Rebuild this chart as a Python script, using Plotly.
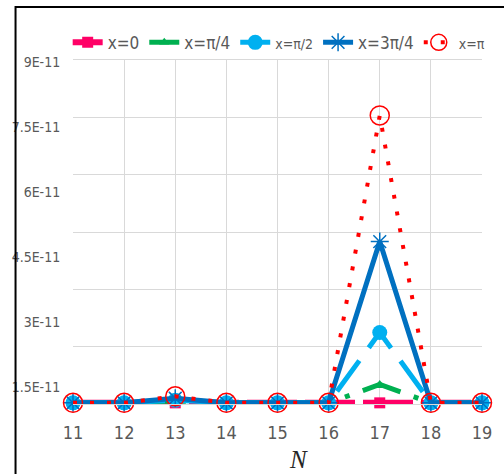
import plotly.graph_objects as go

N = [11, 12, 13, 14, 15, 16, 17, 18, 19]
series_names = ["x=0", "x=π/4", "<span style='font-size:14px'>x=π/2</span>", "x=3π/4",
                "<span style='font-size:14px'>x=π</span>"]
y_x0 = [0.3e-12, 0.3e-12, 0.3e-12, 0.3e-12, 0.3e-12, 0.3e-12, 0.3e-12, 0.3e-12, 0.3e-12]
y_pi4 = [0.3e-12, 0.3e-12, 0.8e-12, 0.3e-12, 0.3e-12, 0.3e-12, 5.1e-12, 0.3e-12, 0.3e-12]
y_pi2 = [0.3e-12, 0.3e-12, 1.0e-12, 0.3e-12, 0.3e-12, 0.3e-12, 18.7e-12, 0.3e-12, 0.3e-12]
y_3pi4 = [0.3e-12, 0.3e-12, 1.5e-12, 0.3e-12, 0.3e-12, 0.3e-12, 42.5e-12, 0.3e-12, 0.3e-12]
y_pi = [0.3e-12, 0.3e-12, 2.0e-12, 0.3e-12, 0.3e-12, 0.3e-12, 75.5e-12, 0.3e-12, 0.3e-12]
y_tickvals = [1.5e-11, 3e-11, 4.5e-11, 6e-11, 7.5e-11, 9e-11]
y_ticktext = ["1.5E-11", "3E-11", "4.5E-11", "6E-11", "7.5E-11", "9E-11"]

FONT = "DejaVu Sans Condensed, Liberation Sans Narrow, Arial Narrow, sans-serif"
GRAY = "#595959"

fig = go.Figure()
styles = [
    dict(y=y_x0, color="#FF0066", width=6, dash="50px,8px",
         marker=dict(symbol="square", size=11, color="#FF0066")),
    dict(y=y_pi4, color="#00B050", width=5, dash="40px,14px,5px,14px",
         marker=dict(symbol="triangle-up", size=9, color="#00B050")),
    dict(y=y_pi2, color="#00B0F0", width=5, dash="38px,16px",
         marker=dict(symbol="circle", size=15, color="#00B0F0")),
    dict(y=y_3pi4, color="#0070C0", width=5, dash="solid",
         marker=dict(symbol="asterisk-open", size=15, color="#0070C0",
                     line=dict(color="#0070C0", width=1.5))),
    dict(y=y_pi, color="#FF0000", width=4, dash="4px,13px",
         marker=dict(symbol="circle-open", size=19, color="#FF0000",
                     line=dict(color="#FF0000", width=1.5))),
]
for name, s in zip(series_names, styles):
    fig.add_trace(go.Scatter(
        x=N, y=s["y"], name=name, mode="lines+markers",
        line=dict(color=s["color"], width=s["width"], dash=s["dash"]),
        marker=s["marker"], cliponaxis=False))

# invisible helper trace to anchor the label axis
fig.add_trace(go.Scatter(x=N, y=y_x0, yaxis="y2", mode="markers",
                         marker=dict(opacity=0), showlegend=False, hoverinfo="skip"))

fig.update_layout(
    width=504, height=474,
    margin=dict(l=65, r=19, t=60, b=70),
    paper_bgcolor="white", plot_bgcolor="white",
    font=dict(family=FONT, color=GRAY),
    showlegend=True,
    legend=dict(orientation="h", x=-0.013, xanchor="left", y=1.05, yanchor="middle",
                font=dict(family=FONT, size=17, color=GRAY),
                bgcolor="rgba(0,0,0,0)", itemwidth=30, tracegroupgap=0),
    xaxis=dict(range=[11, 19], tickvals=N, ticktext=[str(n) for n in N],
               showgrid=True, gridcolor="#D9D9D9", gridwidth=1,
               zeroline=False, showline=True, linecolor="#D9D9D9", mirror=True,
               tickfont=dict(family=FONT, size=18, color=GRAY),
               ticks="outside", ticklen=12, tickcolor="rgba(0,0,0,0)"),
    yaxis=dict(range=[0, 9e-11], dtick=1.5e-11, tick0=0, showticklabels=False,
               showgrid=True, gridcolor="#D9D9D9", gridwidth=1, zeroline=False,
               showline=False, ticks=""),
    yaxis2=dict(overlaying="y", side="left", range=[1.12e-11, 9.04e-11],
                tickvals=y_tickvals, ticktext=y_ticktext, showgrid=False,
                zeroline=False, showline=False,
                tickfont=dict(family=FONT, size=14, color=GRAY),
                ticks="outside", ticklen=9, tickcolor="rgba(0,0,0,0)"),
    annotations=[dict(text="N", xref="paper", yref="paper", x=0.552, y=-0.16,
                      xanchor="center", yanchor="middle", showarrow=False,
                      font=dict(family="Liberation Serif, DejaVu Serif, serif",
                                size=25, color="#262626", style="italic"))],
    shapes=[dict(type="rect", xref="paper", yref="paper",
                 x0=-0.1405, x1=1.2, y0=-0.3, y1=1.154,
                 line=dict(color="black", width=2), layer="above")],
)

fig.write_html("out.html", config={"displayModeBar": False},
               post_script="document.body.style.margin='0';document.body.style.overflow='hidden';")
